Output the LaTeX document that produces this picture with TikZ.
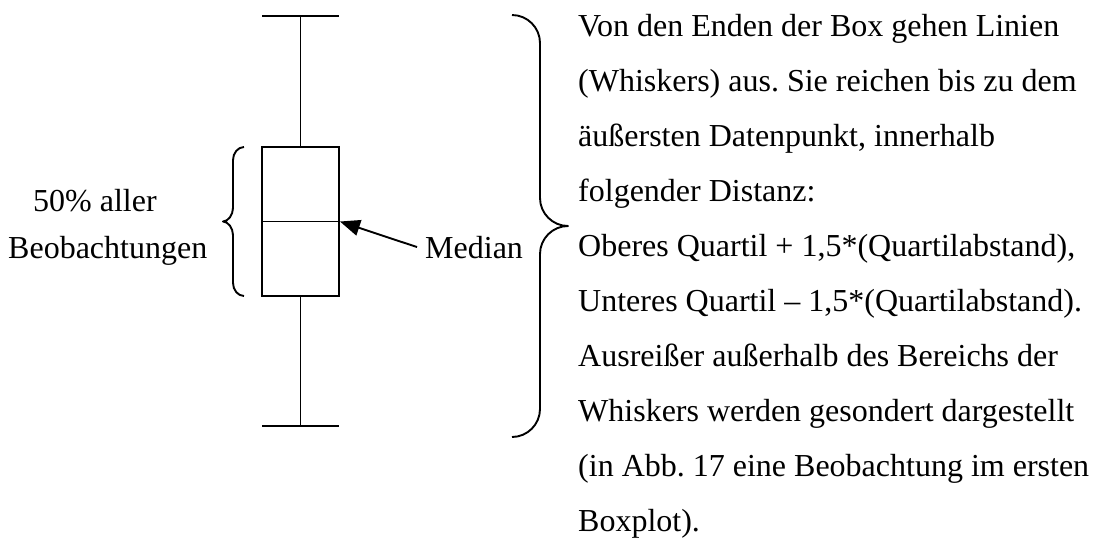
\documentclass[tikz,border=0pt]{standalone}
\usepackage{fontspec}
\setmainfont{Liberation Serif}
\usetikzlibrary{arrows.meta}
\frenchspacing
\tikzset{
  ln/.style={line width=1.9pt, line cap=butt},
  txt/.style={inner sep=0pt, font=\fontsize{32}{55}\selectfont},
  plotbox/.style={draw, line width=1.9pt, minimum width=77pt, minimum height=149pt, inner sep=0pt},
  brace/.style={line width=1.9pt, line join=round}
}
\begin{document}
\begin{tikzpicture}[x=1pt,y=-1pt]
\useasboundingbox (0,0) rectangle (1093,539);
% box
\node[plotbox] (box) at (300.5,221.5) {};
\draw[ln] (box.west) -- (box.east);
% whiskers
\coordinate (topcap) at (300.5,16);
\coordinate (botcap) at (300.5,426);
\draw[ln] (box.north) -- (topcap);
\draw[ln] (box.south) -- (botcap);
\draw[ln] ([xshift=-38.5pt]topcap) -- ([xshift=38.5pt]topcap);
\draw[ln] ([xshift=-38.5pt]botcap) -- ([xshift=38.5pt]botcap);
% left brace
\draw[brace] (244,147) .. controls (238,147) and (233,153) .. (233,160)
  -- (233,208) .. controls (233,215) and (228,221.5) .. (223,221.5)
  .. controls (228,221.5) and (233,228) .. (233,235)
  -- (233,283) .. controls (233,290) and (238,296) .. (244,296);
% right brace
\draw[brace] (512,15) .. controls (527.4,15) and (540,27.6) .. (540,43)
  -- (540,198) .. controls (540,213.4) and (552.6,226) .. (568,226)
  .. controls (552.6,226) and (540,238.6) .. (540,254)
  -- (540,409) .. controls (540,424.4) and (527.4,437) .. (512,437);
% labels
\node[txt, anchor=base west] (l50) at (33,211) {50\% aller};
\node[txt, anchor=base west] (lbeob) at (8,258) {Beobachtungen};
\node[txt, anchor=base west, inner sep=0pt] (median) at (425,258) {Median};
\coordinate (mtail) at ([xshift=-8pt]median.west);
\draw[ln, -{Triangle[length=20pt,width=16pt]}] (mtail) -- (box.east);
% description
\node[txt, anchor=north west, align=left] (desc) at (578,14) {Von den Enden der Box gehen Linien\\
(Whiskers) aus. Sie reichen bis zu dem\\
äußersten Datenpunkt, innerhalb\\
folgender Distanz:\\
Oberes Quartil + 1,5*(Quartilabstand),\\
Unteres Quartil – 1,5*(Quartilabstand).\\
Ausreißer außerhalb des Bereichs der\\
Whiskers werden gesondert dargestellt\\
(in Abb. 17 eine Beobachtung im ersten\\
Boxplot).};
\end{tikzpicture}
\end{document}
